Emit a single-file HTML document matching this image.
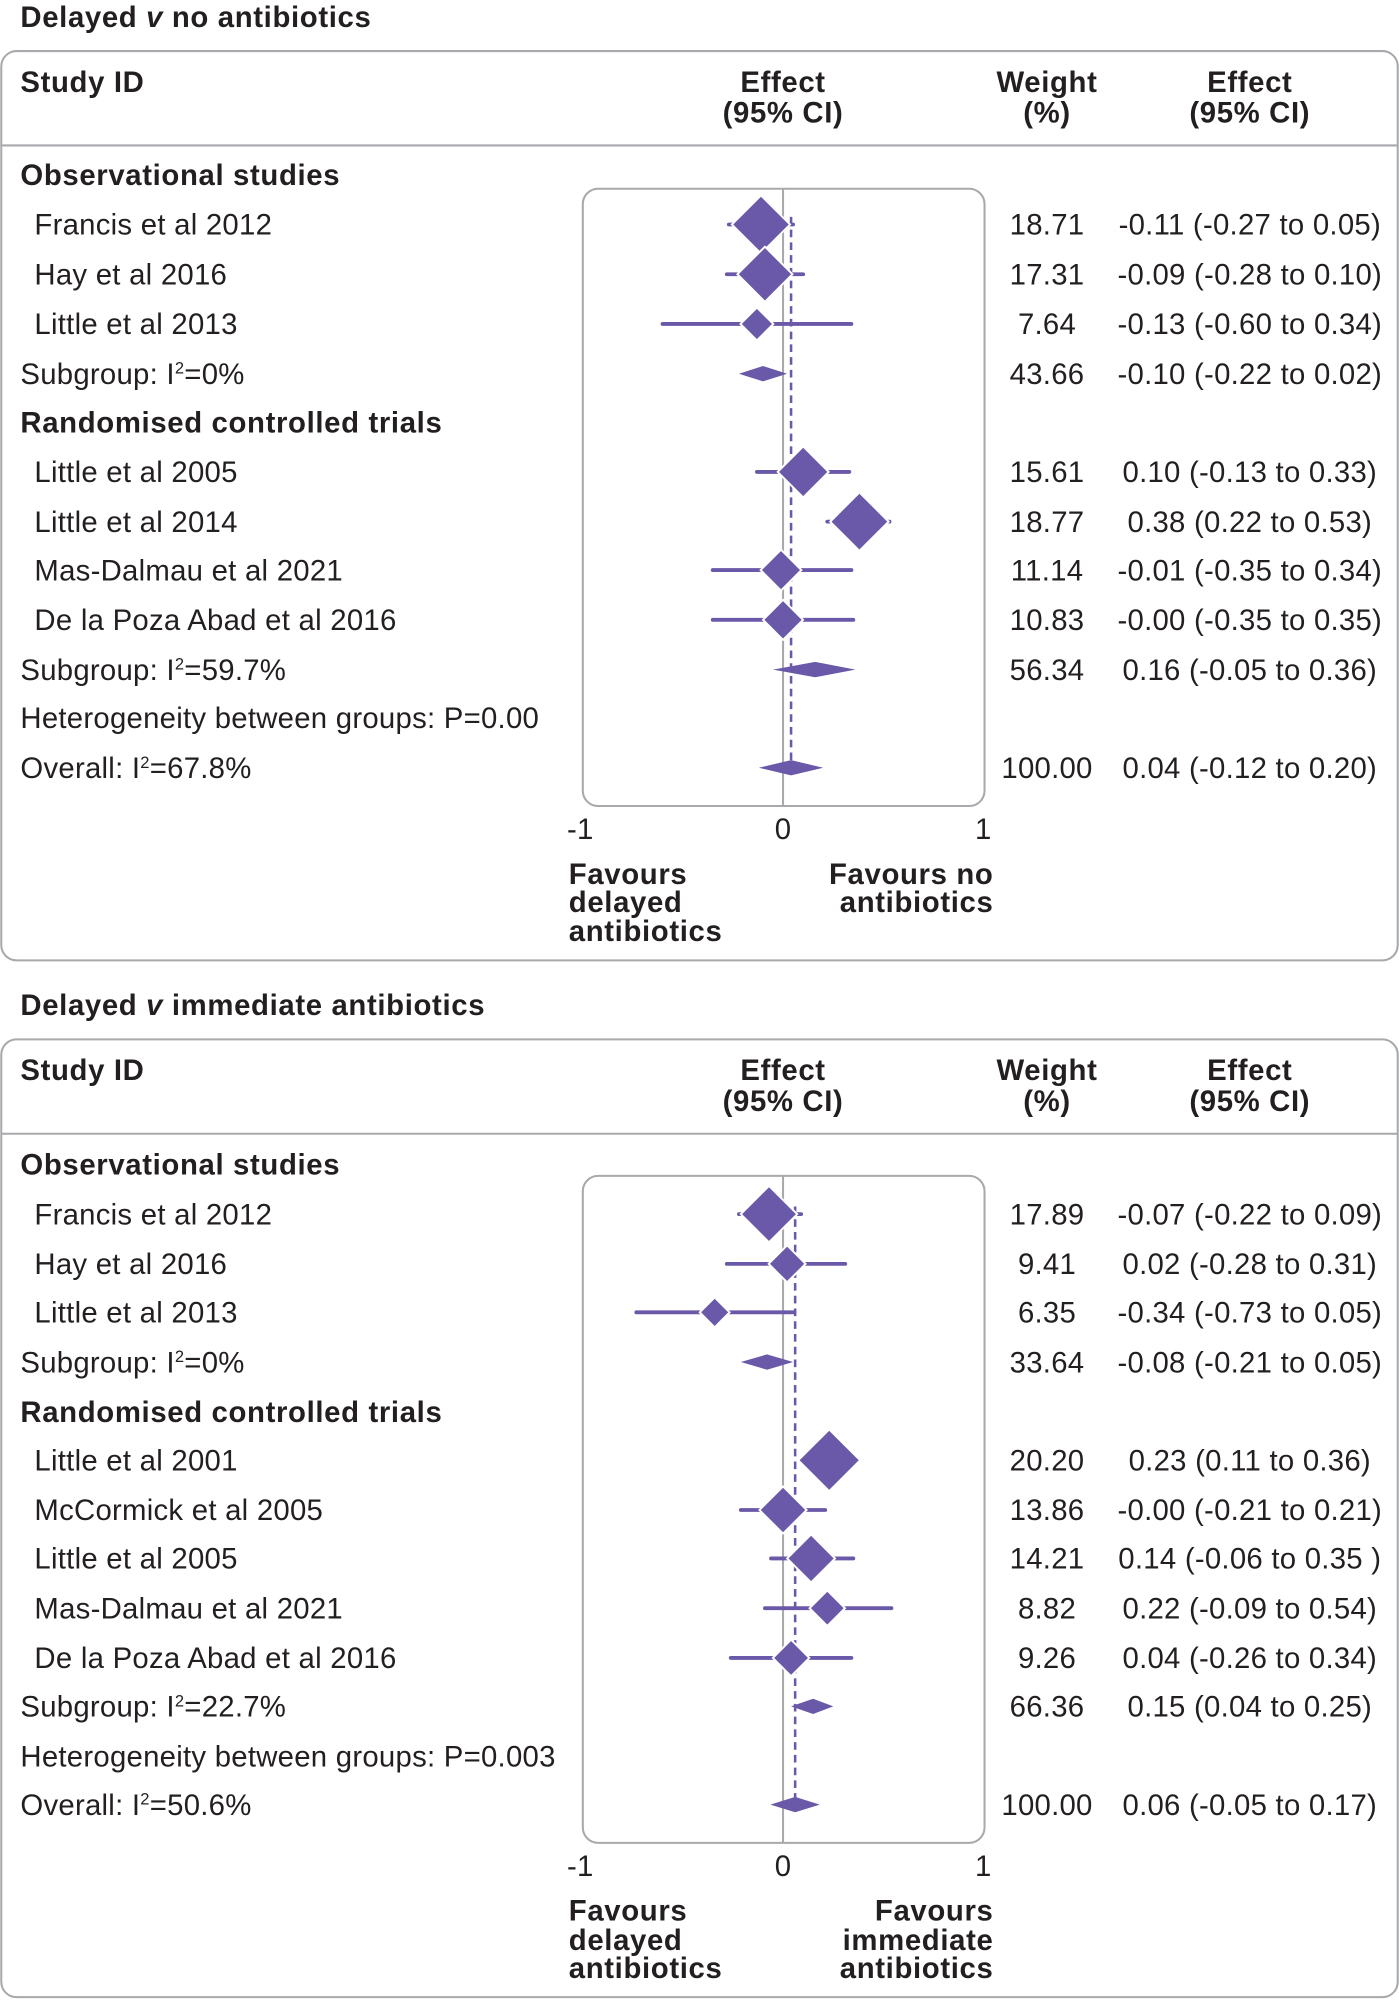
<!DOCTYPE html>
<html><head><meta charset="utf-8"><style>
html,body{margin:0;padding:0;background:#fff}
svg{display:block}
text{font-family:"Liberation Sans",sans-serif;fill:#231f20;font-size:23px;letter-spacing:0.2px}
.b{font-weight:bold;font-size:23px;letter-spacing:0.5px}
.m{text-anchor:middle}
.ci{stroke:#6a58a8;stroke-width:3;stroke-linecap:round}
.d{fill:#6a58a8;stroke:#fff;stroke-width:1.5}
.p{fill:#6a58a8}
.box{fill:none;stroke:#a7a9ac;stroke-width:1.6}
</style></head><body>
<svg width="1399" height="2000" viewBox="0 0 1097 1568.2" xmlns="http://www.w3.org/2000/svg">
<!-- PANEL 1 -->
<text class="b" x="16" y="21">Delayed <tspan font-style="italic">v</tspan> no antibiotics</text>
<rect class="box" x="1" y="40" width="1095" height="713" rx="12"/>
<line x1="1" y1="114" x2="1096" y2="114" stroke="#a7a9ac" stroke-width="1.6"/>
<text class="b" x="16" y="72">Study ID</text>
<text class="b m" x="614" y="72">Effect</text><text class="b m" x="614" y="96">(95% CI)</text>
<text class="b m" x="821" y="72">Weight</text><text class="b m" x="821" y="96">(%)</text>
<text class="b m" x="980" y="72">Effect</text><text class="b m" x="980" y="96">(95% CI)</text>
<rect class="box" x="457" y="148" width="315" height="484" rx="12"/>
<line x1="614" y1="148" x2="614" y2="632" stroke="#a7a9ac" stroke-width="1.6"/>
<line x1="620.3" y1="170" x2="620.3" y2="602" stroke="#6a58a8" stroke-width="2" stroke-dasharray="6,4"/>
<text class="b" x="16" y="145">Observational studies</text>
<text x="27" y="184">Francis et al 2012</text>
<text x="27" y="223">Hay et al 2016</text>
<text x="27" y="262">Little et al 2013</text>
<text x="16" y="301">Subgroup: I<tspan font-size="13" dy="-8">2</tspan><tspan dy="8">=0%</tspan></text>
<text class="b" x="16" y="339">Randomised controlled trials</text>
<text x="27" y="378">Little et al 2005</text>
<text x="27" y="417">Little et al 2014</text>
<text x="27" y="455">Mas-Dalmau et al 2021</text>
<text x="27" y="494">De la Poza Abad et al 2016</text>
<text x="16" y="533">Subgroup: I<tspan font-size="13" dy="-8">2</tspan><tspan dy="8">=59.7%</tspan></text>
<text x="16" y="571">Heterogeneity between groups: P=0.00</text>
<text x="16" y="610">Overall: I<tspan font-size="13" dy="-8">2</tspan><tspan dy="8">=67.8%</tspan></text>
<g class="m">
<text x="821" y="184">18.71</text><text x="821" y="223">17.31</text><text x="821" y="262">7.64</text><text x="821" y="301">43.66</text>
<text x="821" y="378">15.61</text><text x="821" y="417">18.77</text><text x="821" y="455">11.14</text><text x="821" y="494">10.83</text><text x="821" y="533">56.34</text><text x="821" y="610">100.00</text>
<text x="980" y="184">-0.11 (-0.27 to 0.05)</text><text x="980" y="223">-0.09 (-0.28 to 0.10)</text><text x="980" y="262">-0.13 (-0.60 to 0.34)</text><text x="980" y="301">-0.10 (-0.22 to 0.02)</text>
<text x="980" y="378">0.10 (-0.13 to 0.33)</text><text x="980" y="417">0.38 (0.22 to 0.53)</text><text x="980" y="455">-0.01 (-0.35 to 0.34)</text><text x="980" y="494">-0.00 (-0.35 to 0.35)</text><text x="980" y="533">0.16 (-0.05 to 0.36)</text><text x="980" y="610">0.04 (-0.12 to 0.20)</text>
</g>
<line class="ci" x1="571.5" y1="176" x2="621.9" y2="176"/><polygon class="d" points="596.7,153.2 619.5,176 596.7,198.8 573.9,176"/>
<line class="ci" x1="569.9" y1="215" x2="629.8" y2="215"/><polygon class="d" points="599.8,193.4 621.4,215 599.8,236.6 578.2,215"/>
<line class="ci" x1="519.5" y1="254" x2="667.6" y2="254"/><polygon class="d" points="593.5,241.1 606.4,254 593.5,266.9 580.6,254"/>
<polygon class="p" points="579.4,293 598.3,287 617.2,293 598.3,299"/>
<line class="ci" x1="593.5" y1="370" x2="666" y2="370"/><polygon class="d" points="629.8,350 649.8,370 629.8,390 609.8,370"/>
<line class="ci" x1="648.7" y1="409" x2="697.5" y2="409"/><polygon class="d" points="673.9,386.1 696.8,409 673.9,431.9 651,409"/>
<line class="ci" x1="558.9" y1="447" x2="667.6" y2="447"/><polygon class="d" points="612.4,431 628.4,447 612.4,463 596.4,447"/>
<line class="ci" x1="558.9" y1="486" x2="669.1" y2="486"/><polygon class="d" points="614,470.3 629.7,486 614,501.7 598.3,486"/>
<polygon class="p" points="606.1,525 639.2,519 670.7,525 639.2,531"/>
<polygon class="p" points="595.1,602 620.3,596 645.5,602 620.3,608"/>
<g class="m"><text x="455" y="658">-1</text><text x="614" y="658">0</text><text x="771" y="658">1</text></g>
<text class="b" x="446" y="693">Favours</text><text class="b" x="446" y="715">delayed</text><text class="b" x="446" y="738">antibiotics</text>
<text class="b" x="779" y="693" text-anchor="end">Favours no</text><text class="b" x="779" y="715" text-anchor="end">antibiotics</text>

<!-- PANEL 2 -->
<text class="b" x="16" y="796">Delayed <tspan font-style="italic">v</tspan> immediate antibiotics</text>
<rect class="box" x="1" y="815" width="1095" height="751" rx="12"/>
<line x1="1" y1="889" x2="1096" y2="889" stroke="#a7a9ac" stroke-width="1.6"/>
<text class="b" x="16" y="847">Study ID</text>
<text class="b m" x="614" y="847">Effect</text><text class="b m" x="614" y="871">(95% CI)</text>
<text class="b m" x="821" y="847">Weight</text><text class="b m" x="821" y="871">(%)</text>
<text class="b m" x="980" y="847">Effect</text><text class="b m" x="980" y="871">(95% CI)</text>
<rect class="box" x="457" y="922" width="315" height="523" rx="12"/>
<line x1="614" y1="922" x2="614" y2="1445" stroke="#a7a9ac" stroke-width="1.6"/>
<line x1="623.5" y1="946" x2="623.5" y2="1415" stroke="#6a58a8" stroke-width="2" stroke-dasharray="6,4"/>
<text class="b" x="16" y="921">Observational studies</text>
<text x="27" y="960">Francis et al 2012</text>
<text x="27" y="999">Hay et al 2016</text>
<text x="27" y="1037">Little et al 2013</text>
<text x="16" y="1076">Subgroup: I<tspan font-size="13" dy="-8">2</tspan><tspan dy="8">=0%</tspan></text>
<text class="b" x="16" y="1115">Randomised controlled trials</text>
<text x="27" y="1153">Little et al 2001</text>
<text x="27" y="1192">McCormick et al 2005</text>
<text x="27" y="1230">Little et al 2005</text>
<text x="27" y="1269">Mas-Dalmau et al 2021</text>
<text x="27" y="1308">De la Poza Abad et al 2016</text>
<text x="16" y="1346">Subgroup: I<tspan font-size="13" dy="-8">2</tspan><tspan dy="8">=22.7%</tspan></text>
<text x="16" y="1385">Heterogeneity between groups: P=0.003</text>
<text x="16" y="1423">Overall: I<tspan font-size="13" dy="-8">2</tspan><tspan dy="8">=50.6%</tspan></text>
<g class="m">
<text x="821" y="960">17.89</text><text x="821" y="999">9.41</text><text x="821" y="1037">6.35</text><text x="821" y="1076">33.64</text>
<text x="821" y="1153">20.20</text><text x="821" y="1192">13.86</text><text x="821" y="1230">14.21</text><text x="821" y="1269">8.82</text><text x="821" y="1308">9.26</text><text x="821" y="1346">66.36</text><text x="821" y="1423">100.00</text>
<text x="980" y="960">-0.07 (-0.22 to 0.09)</text><text x="980" y="999">0.02 (-0.28 to 0.31)</text><text x="980" y="1037">-0.34 (-0.73 to 0.05)</text><text x="980" y="1076">-0.08 (-0.21 to 0.05)</text>
<text x="980" y="1153">0.23 (0.11 to 0.36)</text><text x="980" y="1192">-0.00 (-0.21 to 0.21)</text><text x="980" y="1230">0.14 (-0.06 to 0.35 )</text><text x="980" y="1269">0.22 (-0.09 to 0.54)</text><text x="980" y="1308">0.04 (-0.26 to 0.34)</text><text x="980" y="1346">0.15 (0.04 to 0.25)</text><text x="980" y="1423">0.06 (-0.05 to 0.17)</text>
</g>
<line class="ci" x1="579.4" y1="952" x2="628.2" y2="952"/><polygon class="d" points="603,929.9 625.1,952 603,974.1 580.9,952"/>
<line class="ci" x1="569.9" y1="991" x2="662.8" y2="991"/><polygon class="d" points="617.2,976.5 631.7,991 617.2,1005.5 602.7,991"/>
<line class="ci" x1="499" y1="1029" x2="621.9" y2="1029"/><polygon class="d" points="560.4,1017.3 572.1,1029 560.4,1040.7 548.7,1029"/>
<polygon class="p" points="580.9,1068 601.4,1062 621.9,1068 601.4,1074"/>
<line class="ci" x1="631.3" y1="1145" x2="670.7" y2="1145"/><polygon class="d" points="650.2,1120.8 674.4,1145 650.2,1169.2 626,1145"/>
<line class="ci" x1="580.9" y1="1184" x2="647.1" y2="1184"/><polygon class="d" points="614,1165.5 632.5,1184 614,1202.5 595.5,1184"/>
<line class="ci" x1="604.6" y1="1222" x2="669.1" y2="1222"/><polygon class="d" points="636,1203.2 654.8,1222 636,1240.8 617.2,1222"/>
<line class="ci" x1="599.8" y1="1261" x2="699" y2="1261"/><polygon class="d" points="648.7,1247.1 662.6,1261 648.7,1274.9 634.8,1261"/>
<line class="ci" x1="573" y1="1300" x2="667.6" y2="1300"/><polygon class="d" points="620.3,1285.7 634.6,1300 620.3,1314.3 606,1300"/>
<polygon class="p" points="620.3,1338 637.6,1332 653.4,1338 637.6,1344"/>
<polygon class="p" points="604.1,1415 623.5,1409 642.8,1415 623.5,1421"/>
<g class="m"><text x="455" y="1471">-1</text><text x="614" y="1471">0</text><text x="771" y="1471">1</text></g>
<text class="b" x="446" y="1506">Favours</text><text class="b" x="446" y="1529">delayed</text><text class="b" x="446" y="1551">antibiotics</text>
<text class="b" x="779" y="1506" text-anchor="end">Favours</text><text class="b" x="779" y="1529" text-anchor="end">immediate</text><text class="b" x="779" y="1551" text-anchor="end">antibiotics</text>
</svg>
</body></html>
